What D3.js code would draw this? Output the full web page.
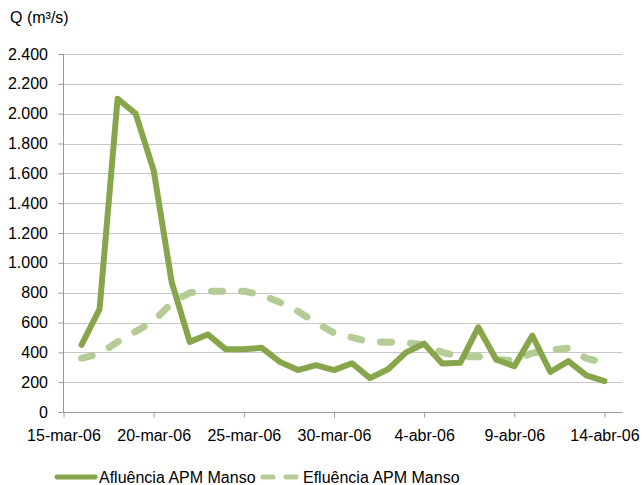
<!DOCTYPE html>
<html><head><meta charset="utf-8">
<script src="https://cdn.jsdelivr.net/npm/d3@7"></script>
<style>body{margin:0;background:#fff}svg{display:block}text{font-family:"Liberation Sans",Arial,sans-serif;fill:#000}</style>
</head><body>
<script>
const dates = ["2006-03-16","2006-03-17","2006-03-18","2006-03-19","2006-03-20","2006-03-21","2006-03-22","2006-03-23","2006-03-24","2006-03-25","2006-03-26","2006-03-27","2006-03-28","2006-03-29","2006-03-30","2006-03-31","2006-04-01","2006-04-02","2006-04-03","2006-04-04","2006-04-05","2006-04-06","2006-04-07","2006-04-08","2006-04-09","2006-04-10","2006-04-11","2006-04-12","2006-04-13","2006-04-14"];
const afluencia = [450,690,2100,2000,1620,870,470,520,420,420,430,336,281,314,281,327,227,287,400,458,325,330,568,350,307,512,268,341,245,207];
const efluencia = [360,390,470,540,610,730,800,810,810,810,785,735,675,600,530,500,470,468,465,450,400,370,372,350,345,395,415,428,360,330];
const yTicks = [0,200,400,600,800,1000,1200,1400,1600,1800,2000,2200,2400];
const xTickDates = ["2006-03-15","2006-03-20","2006-03-25","2006-03-30","2006-04-04","2006-04-09","2006-04-14"];
const xTickLabels = ["15-mar-06","20-mar-06","25-mar-06","30-mar-06","4-abr-06","9-abr-06","14-abr-06"];
const seriesNames = ["Afluência APM Manso","Efluência APM Manso"];
const colors = ["#87A64B","#B5CC96"];

const W=642,H=485, FS="16px";
const parse = d3.utcParse("%Y-%m-%d");
const svg = d3.select("body").append("svg").attr("width",W).attr("height",H);
const x = d3.scaleUtc().domain([parse("2006-03-15"),parse("2006-04-15")]).range([63.5,622.5]);
const y = d3.scaleLinear().domain([0,2400]).range([412,54]);

// gridlines
svg.append("g").selectAll("line").data(yTicks.filter(d=>d>0)).join("line")
  .attr("x1",63.5).attr("x2",622.5).attr("y1",d=>Math.round(y(d))+0.5).attr("y2",d=>Math.round(y(d))+0.5)
  .attr("stroke","#c8c8c8").attr("stroke-width",1.2);

// y axis
const fmt = d=> d3.format(",")(d).replace(/,/g,".");
const ya = svg.append("g").attr("transform","translate(63.5,0)")
  .call(d3.axisLeft(y).tickValues(yTicks).tickSize(5).tickPadding(10.5).tickFormat(fmt));
ya.select(".domain").attr("stroke","#999").attr("d","M0,54V412");
ya.selectAll(".tick line").attr("stroke","#999");
ya.selectAll(".tick text").attr("font-size",FS).attr("font-family","Liberation Sans, Arial, sans-serif").attr("fill","#000");

// x axis
const xa = svg.append("g").attr("transform","translate(0,412.5)")
  .call(d3.axisBottom(x).tickValues(xTickDates.map(parse)).tickSize(5).tickPadding(12).tickFormat((d,i)=>xTickLabels[i]));
xa.select(".domain").attr("stroke","#999").attr("d","M63.5,0H622.5");
xa.selectAll(".tick line").attr("stroke","#999");
xa.selectAll(".tick text").attr("font-size",FS).attr("font-family","Liberation Sans, Arial, sans-serif").attr("fill","#000");

const line = d3.line().x((d,i)=>x(parse(dates[i]))).y(d=>y(d));

svg.append("path").datum(efluencia).attr("d",line).attr("fill","none")
  .attr("stroke",colors[1]).attr("stroke-width",7).attr("stroke-linecap","round").attr("stroke-linejoin","round")
  .attr("stroke-dasharray","11,19");
svg.append("path").datum(afluencia).attr("d",line).attr("fill","none")
  .attr("stroke",colors[0]).attr("stroke-width",6).attr("stroke-linejoin","round").attr("stroke-linecap","round");

// title
svg.append("text").attr("x",10).attr("y",23).attr("font-size",FS).text("Q (m³/s)");

// legend
const lg = svg.append("g");
lg.append("line").attr("x1",57).attr("x2",95).attr("y1",477).attr("y2",477).attr("stroke",colors[0]).attr("stroke-width",5).attr("stroke-linecap","round");
lg.append("text").attr("x",99).attr("y",483).attr("font-size",FS).text(seriesNames[0]);
lg.append("line").attr("x1",263).attr("x2",297).attr("y1",477).attr("y2",477).attr("stroke",colors[1]).attr("stroke-width",5).attr("stroke-linecap","round").attr("stroke-dasharray","10,13");
lg.append("text").attr("x",303).attr("y",483).attr("font-size",FS).text(seriesNames[1]);
</script>
</body></html>
